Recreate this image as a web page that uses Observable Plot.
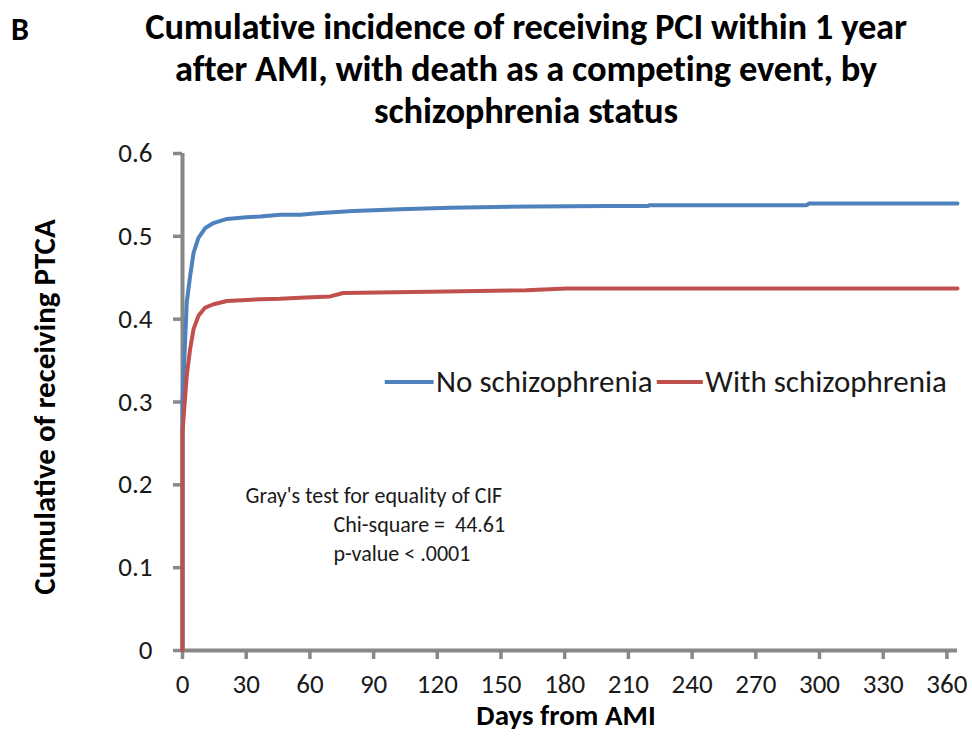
<!DOCTYPE html>
<html>
<head>
<meta charset="utf-8">
<script src="https://cdn.jsdelivr.net/npm/d3@7"></script>
<script src="https://cdn.jsdelivr.net/npm/@observablehq/plot@0.6"></script>
<style>
  html, body { margin: 0; padding: 0; background: #fff; }
  body { width: 972px; height: 742px; position: relative; overflow: hidden; font-family: Carlito, Lato, "Open Sans", sans-serif; }
  #panel { position: absolute; left: 11px; top: 11px; font-weight: bold; font-size: 32px; line-height: 38px; color: #000; }
  #title { position: absolute; left: 80px; width: 892px; top: 6px; text-align: center; font-weight: bold; font-size: 36.5px; line-height: 42px; color: #000; letter-spacing: -0.2px; }
  #chart { position: absolute; left: 0; top: 128px; }
  #chart svg { background: transparent !important; }
</style>
</head>
<body>
<div id="panel">B</div>
<div id="title">Cumulative incidence of receiving PCI within 1 year<br>after AMI, with death as a competing event, by<br>schizophrenia status</div>
<div id="chart"></div>
<script>
// ---- data ----
const seriesNames = ["No schizophrenia", "With schizophrenia"];
const seriesColors = ["#4f81bd", "#c0504d"];

const blueDays   = [0, 0, 1.2, 2, 3.6, 5.2, 7.5, 10.7, 14.6, 20.9, 30, 36.6, 46, 55.4, 63.3, 80.5, 102.5, 126, 165, 201, 219, 220, 294, 295, 365];
const blueValues = [0, 0.30, 0.372, 0.42, 0.452, 0.48, 0.498, 0.51, 0.516, 0.521, 0.523, 0.524, 0.526, 0.526, 0.528, 0.5306, 0.5326, 0.5346, 0.536, 0.5366, 0.5366, 0.5376, 0.5376, 0.5395, 0.5395];

const redDays   = [0, 0, 2, 3.6, 5.2, 7.5, 10.7, 14.6, 20.9, 36.6, 46, 55.4, 69.6, 75.7, 116.8, 162, 181, 365];
const redValues = [0, 0.264, 0.332, 0.364, 0.388, 0.404, 0.414, 0.418, 0.422, 0.424, 0.4247, 0.426, 0.4275, 0.4316, 0.4332, 0.4348, 0.437, 0.437];

const xTicks = [0, 30, 60, 90, 120, 150, 180, 210, 240, 270, 300, 330, 360];
const yTicks = [0, 0.1, 0.2, 0.3, 0.4, 0.5, 0.6];
const yTickLabels = ["0", "0.1", "0.2", "0.3", "0.4", "0.5", "0.6"];

const xLabel = "Days from AMI";
const yLabel = "Cumulative of receiving PTCA";

const legendItems = [
  {name: seriesNames[0], x1: 95.5, x2: 118.5, y: 0.324, color: seriesColors[0]},
  {name: seriesNames[1], x1: 223.6, x2: 245.3, y: 0.324, color: seriesColors[1]}
];

const noteLines = [
  {text: "Gray's test for equality of CIF", x: 29.7, y: 0.186},
  {text: "Chi-square =  44.61", x: 71.1, y: 0.151},
  {text: "p-value < .0001", x: 71.1, y: 0.116}
];

// ---- build tables ----
const blue = blueDays.map((d, i) => ({day: d, v: blueValues[i]}));
const red = redDays.map((d, i) => ({day: d, v: redValues[i]}));

const axisGray = "#888888";
const textColor = "#1a1a1a";

const chart = Plot.plot({
  width: 972,
  height: 614,
  marginLeft: 182,
  marginRight: 15,
  marginTop: 25,
  marginBottom: 92,
  style: {fontFamily: "Carlito, Lato, 'Open Sans', sans-serif", background: "transparent", color: textColor},
  x: {domain: [0, 365]},
  y: {domain: [0, 0.6]},
  marks: [
    Plot.axisX({ticks: xTicks, tickSize: 9, tickPadding: 14, fontSize: 27, stroke: axisGray, strokeWidth: 3.5, fill: textColor, label: null}),
    Plot.axisY({ticks: yTicks, tickFormat: (d) => yTickLabels[yTicks.indexOf(d)], tickSize: 9, tickPadding: 21, fontSize: 27, stroke: axisGray, strokeWidth: 3.5, fill: textColor, label: null}),
    Plot.ruleY([0], {stroke: axisGray, strokeWidth: 4}),
    Plot.ruleX([0], {stroke: axisGray, strokeWidth: 4}),
    Plot.line(blue, {x: "day", y: "v", stroke: seriesColors[0], strokeWidth: 4}),
    Plot.line(red, {x: "day", y: "v", stroke: seriesColors[1], strokeWidth: 4}),
    Plot.ruleY(legendItems, {x1: "x1", x2: "x2", y: "y", stroke: "color", strokeWidth: 4}),
    Plot.text(legendItems, {x: "x2", y: "y", text: "name", textAnchor: "start", dx: 2, fontSize: 31, fill: textColor}),
    Plot.text(noteLines, {x: "x", y: "y", text: "text", textAnchor: "start", fontSize: 22, fill: textColor}),
    Plot.text([yLabel], {frameAnchor: "left", textAnchor: "middle", dx: -137, dy: 5, rotate: -90, fontSize: 31, fontWeight: "bold", fill: "#000"}),
    Plot.text([xLabel], {frameAnchor: "bottom", dy: 74, dx: -4, fontSize: 29, fontWeight: "bold", fill: "#000"})
  ]
});
document.getElementById("chart").appendChild(chart);
</script>
</body>
</html>
